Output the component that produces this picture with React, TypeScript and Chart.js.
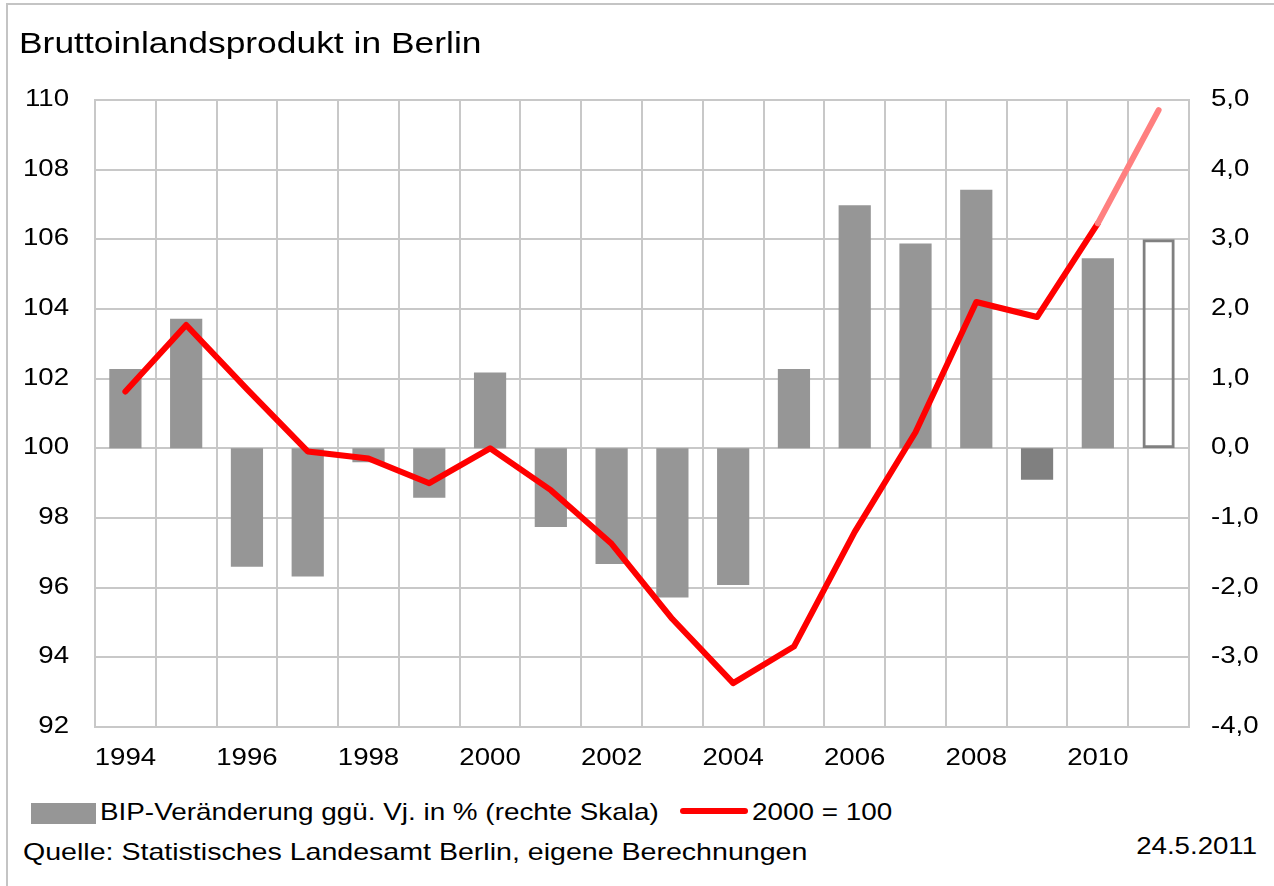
import React, { useEffect, useRef } from 'react';
import { Chart, registerables } from 'chart.js';

Chart.register(...registerables);

// ---------- data ----------
const years = ['1994', '1995', '1996', '1997', '1998', '1999', '2000', '2001', '2002', '2003', '2004', '2005', '2006', '2007', '2008', '2009', '2010', '2011'];
// BIP-Veränderung ggü. Vorjahr in % (rechte Skala)
const growthPct = [1.14, 1.86, -1.7, -1.84, -0.2, -0.71, 1.09, -1.13, -1.66, -2.14, -1.96, 1.14, 3.49, 2.94, 3.71, -0.45, 2.73, 3.0];
// Index 2000 = 100 (linke Skala)
const index2000 = [101.63, 103.54, 101.7, 99.91, 99.71, 99.0, 100.0, 98.8, 97.26, 95.1, 93.26, 94.31, 97.6, 100.46, 104.2, 103.77, 106.46, 109.71];
const leftAxis = { min: 92, max: 110, step: 2 };
const rightAxis = { min: -4, max: 5, step: 1 };
const forecastYear = '2011';
const darkYear = '2009';

const titleText = 'Bruttoinlandsprodukt in Berlin';
const barLabel = 'BIP-Veränderung ggü. Vj. in % (rechte Skala)';
const lineLabel = '2000 = 100';
const sourceText = 'Quelle: Statistisches Landesamt Berlin, eigene Berechnungen';
const dateText = '24.5.2011';

// ---------- style ----------
const FONT = '"Liberation Sans", Arial, Helvetica, sans-serif';
const K = 1.15; // horizontal text stretch of the original
const GRID = '#c8c8c8';
const BAR = '#969696';
const BAR_DARK = '#808080';
const RED = '#ff0000';
const RED_LIGHT = '#ff8080';

const stretchLabels = {
  id: 'stretchLabels',
  afterDraw(chart: any) {
    const { ctx } = chart;
    const sx = chart.scales.x;
    const sy = chart.scales.y;
    const sy1 = chart.scales.y1;
    ctx.save();
    ctx.fillStyle = '#000';
    ctx.font = `24px ${FONT}`;
    ctx.textBaseline = 'alphabetic';
    const draw = (text: string, px: number, py: number, align: CanvasTextAlign) => {
      ctx.save();
      ctx.translate(px, py);
      ctx.scale(K, 1);
      ctx.textAlign = align;
      ctx.fillText(text, 0, 0);
      ctx.restore();
    };
    sx.ticks.forEach((t: any, i: number) => {
      if (t.label) draw(String(t.label), sx.getPixelForTick(i), 765, 'center');
    });
    sy.ticks.forEach((t: any, i: number) => {
      draw(String(t.label), 69, sy.getPixelForTick(i) + 6, 'right');
    });
    sy1.ticks.forEach((t: any, i: number) => {
      draw(String(t.label), 1211, sy1.getPixelForTick(i) + 6, 'left');
    });
    ctx.restore();
  },
};

function Stretched(props: { text: string; left?: number; right?: number; top: number; size: number; k: number }) {
  const { text, left, right, top, size, k } = props;
  const style: React.CSSProperties = {
    position: 'absolute',
    top,
    fontSize: size,
    lineHeight: `${size}px`,
    whiteSpace: 'nowrap',
    color: '#000',
    transform: `scaleX(${k})`,
    transformOrigin: right !== undefined ? 'right top' : 'left top',
  };
  if (left !== undefined) style.left = left;
  if (right !== undefined) style.right = right;
  return <span style={style}>{text}</span>;
}

export default function App() {
  const canvasRef = useRef<HTMLCanvasElement | null>(null);

  useEffect(() => {
    const canvas = canvasRef.current;
    if (!canvas) return;
    const chart = new Chart(canvas, {
      type: 'bar',
      data: {
        labels: years,
        datasets: [
          {
            type: 'line',
            label: lineLabel,
            data: index2000,
            yAxisID: 'y',
            borderColor: RED,
            borderWidth: 6,
            borderCapStyle: 'round',
            borderJoinStyle: 'round',
            pointRadius: 0,
            pointHoverRadius: 0,
            tension: 0,
            fill: false,
            order: 1,
            segment: {
              borderColor: (c: any) => (years[c.p1DataIndex] === forecastYear ? RED_LIGHT : RED),
            },
          } as any,
          {
            type: 'bar',
            label: barLabel,
            data: growthPct,
            yAxisID: 'y1',
            backgroundColor: years.map((y) => (y === forecastYear ? 'rgba(0,0,0,0)' : y === darkYear ? BAR_DARK : BAR)),
            borderColor: years.map((y) => (y === forecastYear ? BAR_DARK : 'rgba(0,0,0,0)')),
            borderWidth: years.map((y) => (y === forecastYear ? 3 : 0)),
            borderSkipped: false,
            barPercentage: 0.53,
            categoryPercentage: 1,
            order: 2,
          } as any,
        ],
      },
      options: {
        responsive: false,
        maintainAspectRatio: false,
        animation: false,
        devicePixelRatio: 1,
        layout: { padding: { top: 100, left: 0, right: 0, bottom: 0 } },
        plugins: {
          legend: { display: false },
          tooltip: { enabled: false },
          title: { display: false },
        },
        scales: {
          x: {
            type: 'category',
            offset: true,
            grid: { offset: true, color: GRID, lineWidth: 2, drawTicks: false },
            border: { display: true, color: GRID, width: 2 },
            ticks: {
              autoSkip: false,
              maxRotation: 0,
              color: 'rgba(0,0,0,0)',
              font: { size: 24, family: FONT },
              callback: (_v: any, i: number) => (i % 2 === 0 ? years[i] : ''),
            },
            afterFit: (s: any) => {
              s.height = 63;
            },
          },
          y: {
            type: 'linear',
            position: 'left',
            min: leftAxis.min,
            max: leftAxis.max,
            grid: { color: GRID, lineWidth: 2, drawTicks: false },
            border: { display: true, color: GRID, width: 2 },
            ticks: {
              stepSize: leftAxis.step,
              color: 'rgba(0,0,0,0)',
              font: { size: 24, family: FONT },
              callback: (v: any) => String(v),
            },
            afterFit: (s: any) => {
              s.width = 95;
            },
          },
          y1: {
            type: 'linear',
            position: 'right',
            min: rightAxis.min,
            max: rightAxis.max,
            grid: { display: false, drawTicks: false },
            border: { display: true, color: GRID, width: 2 },
            ticks: {
              stepSize: rightAxis.step,
              color: 'rgba(0,0,0,0)',
              font: { size: 24, family: FONT },
              callback: (v: any) => Number(v).toFixed(1).replace('.', ','),
            },
            afterFit: (s: any) => {
              s.width = 85;
            },
          },
        },
      } as any,
      plugins: [stretchLabels],
    });
    return () => chart.destroy();
  }, []);

  return (
    <div
      style={{
        position: 'absolute',
        left: 0,
        top: 0,
        width: 1274,
        height: 886,
        background: '#fff',
        overflow: 'hidden',
        fontFamily: FONT,
      }}
    >
      <div
        style={{
          position: 'absolute',
          left: 6,
          top: 3,
          right: -10,
          bottom: -10,
          borderTop: '2px solid #c4c4c4',
          borderLeft: '2px solid #c4c4c4',
        }}
      />
      <canvas ref={canvasRef} width={1274} height={790} style={{ position: 'absolute', left: 0, top: 0 }} />
      <Stretched text={titleText} left={19} top={28} size={30} k={1.18} />
      <div style={{ position: 'absolute', left: 31, top: 803, width: 65, height: 21, background: BAR }} />
      <Stretched text={barLabel} left={100} top={800} size={24} k={1.16} />
      <div style={{ position: 'absolute', left: 680, top: 808, width: 68, height: 6, borderRadius: 3, background: RED }} />
      <Stretched text={lineLabel} left={752} top={800} size={24} k={1.16} />
      <Stretched text={sourceText} left={23} top={840} size={24} k={1.19} />
      <Stretched text={dateText} right={17} top={834} size={24} k={1.15} />
    </div>
  );
}
